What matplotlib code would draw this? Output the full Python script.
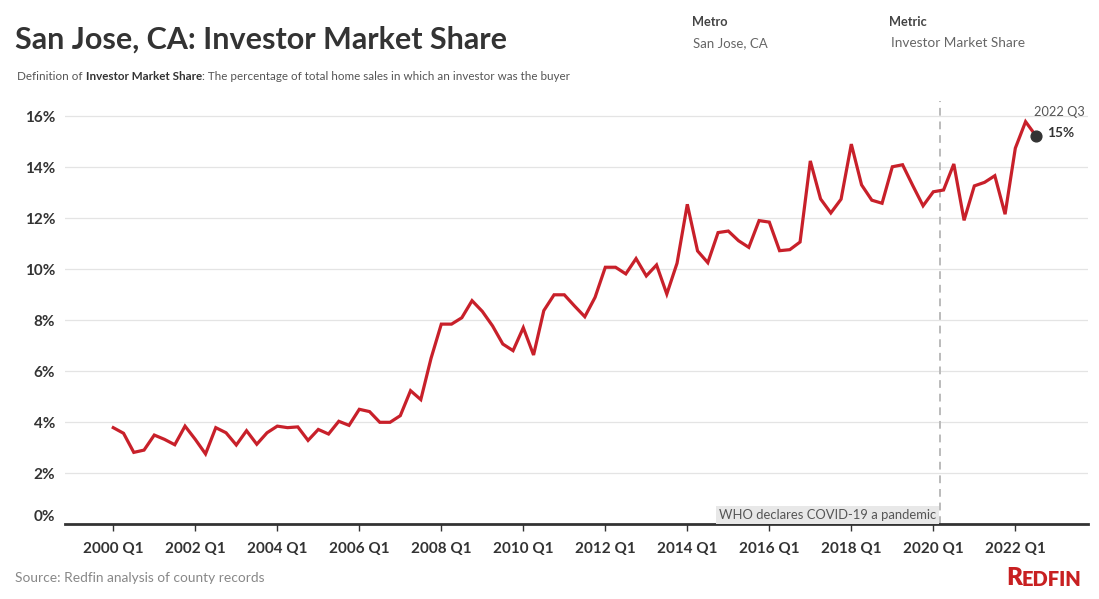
import matplotlib
matplotlib.use("Agg")
import matplotlib.pyplot as plt

# quarterly investor market share, San Jose, 2000 Q1 .. 2022 Q3 (percent)
share = [
    3.79, 3.57, 2.82, 2.91,      # 2000
    3.50, 3.33, 3.12, 3.85,      # 2001
    3.33, 2.76, 3.79, 3.59,      # 2002
    3.11, 3.67, 3.14, 3.59,      # 2003
    3.85, 3.79, 3.82, 3.29,      # 2004
    3.72, 3.54, 4.04, 3.88,      # 2005
    4.51, 4.42, 4.00, 4.00,      # 2006
    4.26, 5.24, 4.89, 6.51,      # 2007
    7.85, 7.85, 8.10, 8.77,      # 2008
    8.35, 7.78, 7.07, 6.81,      # 2009
    7.71, 6.64, 8.38, 9.00,      # 2010
    9.00, 8.56, 8.14, 8.90,      # 2011
    10.08, 10.08, 9.82, 10.42,   # 2012
    9.74, 10.17, 9.03, 10.24,    # 2013
    12.55, 10.72, 10.26, 11.44,  # 2014
    11.50, 11.12, 10.86, 11.91,  # 2015
    11.85, 10.73, 10.77, 11.07,  # 2016
    14.25, 12.76, 12.21, 12.75,  # 2017
    14.91, 13.31, 12.71, 12.59,  # 2018
    14.02, 14.10, 13.28, 12.49,  # 2019
    13.04, 13.11, 14.13, 11.92,  # 2020
    13.27, 13.41, 13.67, 12.16,  # 2021
    14.75, 15.79, 15.24,         # 2022
]
quarter = list(range(len(share)))

tick_labels = ["2000 Q1", "2002 Q1", "2004 Q1", "2006 Q1", "2008 Q1", "2010 Q1",
               "2012 Q1", "2014 Q1", "2016 Q1", "2018 Q1", "2020 Q1", "2022 Q1"]
tick_pos = [8 * i for i in range(len(tick_labels))]
y_ticks = [0, 2, 4, 6, 8, 10, 12, 14, 16]

pandemic_q = 80.65   # 2020-03-11
last_label = "2022 Q3"
last_value = "15%"

red = "#c8202a"
dark = "#333333"
grey = "#666666"

W, H = 1099, 599
plt.rcParams["font.family"] = ["Lato", "DejaVu Sans"]
fig = plt.figure(figsize=(W / 100, H / 100), dpi=100)


def fx(x):
    return x / W


def fy(y):
    return 1 - y / H


ax = fig.add_axes([fx(65), fy(524.3), fx(1088 - 65), (524.3 - 101) / H])
ax.set_xlim(-4.71, 95.09)
ax.set_ylim(0, 16.6)

for v in y_ticks[1:]:
    ax.axhline(v, color="#e4e4e4", lw=0.9, zorder=0)

ax.plot(quarter, share, color=red, lw=2.3, solid_joinstyle="miter", zorder=3)
ax.scatter([quarter[-1]], [share[-1]], s=60, color=dark, zorder=4)

ax.axvline(pandemic_q, color="#bbbbbb", lw=1.4, ls=(0, (4, 3)), zorder=2)
ax.text(pandemic_q - 0.35, 0.12, "WHO declares COVID-19 a pandemic", ha="right", va="bottom",
        fontsize=9.4, color="#555555",
        bbox=dict(facecolor="#e8e8e8", edgecolor="none", pad=2.2), zorder=5)

ax.annotate(last_label, (quarter[-1], share[-1]), xytext=(-1, 17), textcoords="offset points",
            ha="left", va="center", fontsize=9.2, color="#555555")
ax.annotate(last_value, (quarter[-1], share[-1]), xytext=(8, 2), textcoords="offset points",
            ha="left", va="center", fontsize=9.8, color=dark, fontweight="bold")

for s in ["top", "right", "left"]:
    ax.spines[s].set_visible(False)
ax.spines["bottom"].set_color(dark)
ax.spines["bottom"].set_linewidth(2)

ax.set_xticks(tick_pos)
ax.set_xticklabels(tick_labels, fontsize=11, fontweight="bold", color=dark)
ax.tick_params(axis="x", length=5, width=1, color=dark, pad=8)

ax.set_yticks(y_ticks)
ax.set_yticklabels([f"{v}%" for v in y_ticks], fontsize=11, fontweight="bold", color=dark)
ax.tick_params(axis="y", length=0, pad=7)
ax.get_yticklabels()[0].set_verticalalignment("bottom")

# header
fig.text(fx(15), fy(40), "San Jose, CA: Investor Market Share", fontsize=22, fontweight="bold",
         color=dark, va="center")
t1 = fig.text(fx(17), fy(76), "Definition of ", fontsize=8.35, color="#555555", va="center")
a = ax.annotate("Investor Market Share", xy=(1, 0), xycoords=t1, va="bottom", ha="left",
                fontsize=8.35, color=dark, fontweight="bold")
ax.annotate(": The percentage of total home sales in which an investor was the buyer",
            xy=(1, 0), xycoords=a, va="bottom", ha="left", fontsize=8.35, color="#555555")

fig.text(fx(692), fy(22), "Metro", fontsize=9.2, fontweight="bold", color="#444444", va="center")
fig.text(fx(693), fy(43), "San Jose, CA", fontsize=9.5, color=grey, va="center")
fig.text(fx(889), fy(22), "Metric", fontsize=9.2, fontweight="bold", color="#444444", va="center")
fig.text(fx(891), fy(43), "Investor Market Share", fontsize=9.8, color=grey, va="center")

fig.text(fx(15), fy(578), "Source: Redfin analysis of county records", fontsize=9.9,
         color="#888888", va="center")
logo = fig.text(fx(1006), fy(578), "R", fontsize=17.5, fontweight="heavy", color="#c82021",
                ha="left", va="center")
ax.annotate("EDFIN", xy=(1, 0), xycoords=logo, va="bottom", ha="left", fontsize=14.5,
            fontweight="heavy", color="#c82021", annotation_clip=False)

fig.savefig("out.png", dpi=100)
